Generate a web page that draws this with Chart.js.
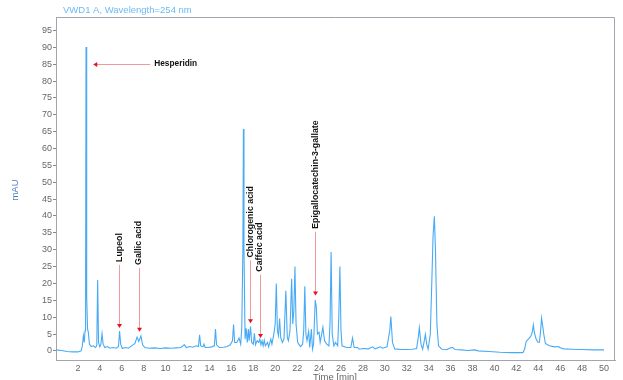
<!DOCTYPE html>
<html>
<head>
<meta charset="utf-8">
<script src="https://cdn.jsdelivr.net/npm/chart.js@4"></script>
<style>
  body { margin: 0; background: #fff; }
  canvas { display: block; }
</style>
</head>
<body>
<canvas id="chrom" width="623" height="380"></canvas>
<script>
// retention time (min) and absorbance (mAU)
const times = [
  0.0, 0.5, 1.0, 1.5, 2.0, 2.3, 2.4, 2.5, 2.58, 2.65, 2.7, 2.74, 2.78, 2.82, 2.88, 2.95,
  3.05, 3.2, 3.4, 3.6, 3.72, 3.8, 3.88, 4.0, 4.1, 4.2, 4.3, 4.45, 4.7, 4.9, 5.2, 5.5,
  5.7, 5.8, 5.9, 6.05, 6.3, 6.6, 6.9, 7.2, 7.4, 7.55, 7.75, 7.9, 8.1, 8.5, 9.0, 9.5,
  10.0, 10.5, 11.0, 11.4, 11.7, 11.9, 12.2, 12.5, 12.8, 13.0, 13.1, 13.2, 13.4, 13.5, 13.6, 13.9,
  14.2, 14.45, 14.55, 14.65, 14.9, 15.3, 15.6, 15.9, 16.1, 16.2, 16.3, 16.5, 16.7, 16.85, 16.95, 17.05,
  17.1, 17.15, 17.25, 17.35, 17.45, 17.55, 17.62, 17.75, 17.85, 18.0, 18.1, 18.2, 18.35, 18.5, 18.6, 18.7,
  18.8, 18.9, 19.0, 19.1, 19.3, 19.4, 19.6, 19.7, 19.85, 20.0, 20.1, 20.2, 20.3, 20.4, 20.5, 20.65,
  20.8, 20.97, 21.1, 21.2, 21.35, 21.5, 21.6, 21.7, 21.8, 21.9, 22.05, 22.3, 22.5, 22.6, 22.7, 22.8,
  22.9, 23.05, 23.15, 23.3, 23.4, 23.5, 23.65, 23.75, 23.85, 24.0, 24.1, 24.35, 24.5, 24.7, 24.9, 25.0,
  25.1, 25.2, 25.35, 25.5, 25.7, 25.8, 25.9, 26.0, 26.1, 26.5, 26.9, 27.05, 27.2, 27.5, 27.7, 28.0,
  28.5, 28.9, 29.1, 29.6, 29.8, 30.2, 30.45, 30.55, 30.7, 30.9, 31.5, 32.0, 32.5, 32.9, 33.05, 33.15,
  33.3, 33.45, 33.6, 33.7, 33.82, 33.95, 34.15, 34.3, 34.4, 34.52, 34.62, 34.75, 34.9, 35.2, 35.7, 36.0,
  36.2, 36.4, 37.0, 37.5, 38.2, 38.5, 39.5, 40.5, 41.5, 42.6, 42.75, 42.9, 43.3, 43.45, 43.55, 43.65,
  43.8, 43.95, 44.1, 44.2, 44.3, 44.4, 44.5, 44.65, 45.0, 45.5, 45.85, 45.95, 46.3, 47.0, 48.0, 49.0,
  50.0
];
const mAU = [
  0.3, 0.1, -0.2, -0.3, -0.3, 0.0, 1.5, 4.5, 2.5, 6, 18.5, 90.1, 46.8, 16, 6.5, 5.5,
  2.0, 1.3, 1.5, 1.0, 1.5, 21, 2.5, 1.2, 2.0, 5.1, 2.0, 1.0, 1.3, 0.8, 1.0, 0.8,
  1.3, 5.9, 2.0, 0.7, 1.0, 0.8, 1.5, 2.2, 4.1, 2.8, 4.4, 1.8, 1.0, 0.8, 0.9, 0.7,
  0.9, 0.8, 0.9, 1.0, 1.8, 1.0, 1.3, 1.1, 1.5, 1.3, 4.8, 1.5, 1.2, 2.0, 1.0, 1.0,
  1.2, 1.5, 6.5, 1.8, 1.0, 1.1, 1.3, 1.8, 3, 7.8, 2.5, 2.5, 3.8, 2.0, 6.8, 30,
  65.8, 30, 3.5, 6.7, 2.5, 6.5, 3.0, 7.2, 2.5, 2.0, 5.2, 1.8, 3.0, 2.5, 3.5, 1.8,
  3.0, 1.5, 3.2, 1.5, 2.5, 1.2, 3.5, 2.0, 4.5, 8, 20.0, 6, 4.5, 9.6, 4.0, 2.5,
  3.5, 17.8, 4, 3, 6, 21.4, 8, 12, 25, 8, 2.5, 1.3, 2.0, 6, 19.2, 5,
  3.0, 5.8, 1.0, 6.5, 0.5, 2.0, 15.1, 13, 5, 5.5, 2.5, 7.0, 3, 2.0, 1.5, 8,
  29.3, 5, 1.5, 2.5, 1.5, 10, 25, 6, 1.5, 1.0, 1.0, 3.8, 1.0, 1.0, 0.5, 0.7,
  0.6, 1.2, 0.6, 1.2, 0.8, 1.2, 6, 10.2, 2.5, 0.6, 0.4, 0.4, 0.5, 0.7, 4, 6.9,
  2, 0.5, 3, 4.9, 2, 0.5, 5, 22, 34, 39.9, 30, 8, 1.5, 0.5, 0.4, 0.9,
  1.0, 0.4, 0.3, 0.1, 0.3, 0.0, -0.2, -0.4, -0.5, -0.5, 0.5, 2.8, 4.2, 5.5, 7.7, 5.3,
  3.5, 2.6, 2.5, 5.5, 9.7, 7.5, 5.0, 2.2, 1.5, 1.2, 1.3, 1.0, 0.6, 0.5, 0.4, 0.3,
  0.3
];

const xTickVals = [2, 4, 6, 8, 10, 12, 14, 16, 18, 20, 22, 24, 26, 28, 30, 32, 34, 36, 38, 40, 42, 44, 46, 48, 50];
const yTickVals = [0, 5, 10, 15, 20, 25, 30, 35, 40, 45, 50, 55, 60, 65, 70, 75, 80, 85, 90, 95];

// compound labels: arrow tip and arrow tail in data units
const compounds = ["Hesperidin", "Lupeol", "Gallic acid", "Chlorogenic acid", "Caffeic acid", "Epigallocatechin-3-gallate"];
const tipTime = [3.4, 5.78, 7.55, 17.72, 18.57, 23.65];
const tipValue = [85.2, 6.8, 5.7, 8.2, 3.8, 16.4];
const tailTime = [8.6, 5.78, 7.55, 17.72, 18.57, 23.65];
const tailValue = [85.2, 25.5, 24.6, 26.8, 22.6, 35.3];

const points = times.map((t, i) => ({ x: t, y: mAU[i] }));

const extras = {
  id: "extras",
  afterDraw(chart) {
    const ctx = chart.ctx;
    const a = chart.chartArea;
    const xs = chart.scales.x;
    const ys = chart.scales.y;
    ctx.save();

    // top and right frame
    ctx.strokeStyle = "#a4a4ae";
    ctx.lineWidth = 1;
    ctx.beginPath();
    ctx.moveTo(a.left, a.top + 0.5);
    ctx.lineTo(a.right - 0.5, a.top + 0.5);
    ctx.lineTo(a.right - 0.5, a.bottom);
    ctx.stroke();

    // titles
    ctx.fillStyle = "#6cbaf4";
    ctx.font = "9.5px Arial, 'Liberation Sans'";
    ctx.textBaseline = "middle";
    ctx.textAlign = "left";
    ctx.fillText("VWD1 A, Wavelength=254 nm", 63, 10);

    ctx.fillStyle = "#666";
    ctx.textBaseline = "top";
    ctx.fillText("Time [min]", 313, 373);

    ctx.save();
    ctx.translate(15, 190);
    ctx.rotate(-Math.PI / 2);
    ctx.fillStyle = "#4a7cc0";
    ctx.textAlign = "center";
    ctx.textBaseline = "middle";
    ctx.fillText("mAU", 0, 0);
    ctx.restore();

    // arrows and compound names
    compounds.forEach((name, i) => {
      const x1 = xs.getPixelForValue(tailTime[i]);
      const y1 = ys.getPixelForValue(tailValue[i]);
      const x2 = xs.getPixelForValue(tipTime[i]);
      const y2 = ys.getPixelForValue(tipValue[i]);
      const horiz = Math.abs(y1 - y2) < 1;

      ctx.strokeStyle = "#f29a9a";
      ctx.lineWidth = 1;
      ctx.beginPath();
      if (horiz) {
        ctx.moveTo(x1, Math.round(y1) + 0.5);
        ctx.lineTo(x2 + 3, Math.round(y2) + 0.5);
      } else {
        ctx.moveTo(Math.round(x1) + 0.5, y1);
        ctx.lineTo(Math.round(x2) + 0.5, y2 - 3);
      }
      ctx.stroke();

      ctx.fillStyle = "#e8101a";
      ctx.beginPath();
      if (horiz) {
        const yy = Math.round(y2) + 0.5;
        ctx.moveTo(x2, yy);
        ctx.lineTo(x2 + 4, yy - 2.5);
        ctx.lineTo(x2 + 4, yy + 2.5);
      } else {
        const xx = Math.round(x2) + 0.5;
        ctx.moveTo(xx, y2);
        ctx.lineTo(xx - 2.5, y2 - 4);
        ctx.lineTo(xx + 2.5, y2 - 4);
      }
      ctx.closePath();
      ctx.fill();

      ctx.fillStyle = "#111";
      if (horiz) {
        ctx.font = "bold 8.3px Arial, 'Liberation Sans'";
        ctx.textAlign = "left";
        ctx.textBaseline = "middle";
        ctx.fillText(name, x1 + 4, y1);
      } else {
        ctx.save();
        ctx.font = "bold 8.8px Arial, 'Liberation Sans'";
        ctx.translate(x1, y1 - 3);
        ctx.rotate(-Math.PI / 2);
        ctx.textAlign = "left";
        ctx.textBaseline = "middle";
        ctx.fillText(name, 0, 0);
        ctx.restore();
      }
    });
    ctx.restore();
  }
};

new Chart(document.getElementById("chrom"), {
  type: "line",
  data: {
    datasets: [
      {
        data: points,
        borderColor: "rgb(72,170,245)",
        borderWidth: 1.1,
        pointRadius: 0,
        tension: 0,
        fill: false,
      },
    ],
  },
  options: {
    responsive: false,
    animation: false,
    devicePixelRatio: 1,
    layout: { padding: { top: 17, right: 8, left: 0, bottom: 0 } },
    plugins: { legend: { display: false }, tooltip: { enabled: false } },
    scales: {
      x: {
        type: "linear",
        min: 0,
        max: 51,
        afterBuildTicks: (s) => { s.ticks = xTickVals.map((v) => ({ value: v })); },
        afterFit: (s) => { s.height = 20; },
        grid: { drawOnChartArea: false, drawTicks: false },
        border: { color: "#a4a4ae" },
        ticks: { color: "#666", font: { family: "Arial", size: 9 }, padding: 3, maxRotation: 0, autoSkip: false },
      },
      y: {
        min: -2.7,
        max: 99,
        afterBuildTicks: (s) => { s.ticks = yTickVals.map((v) => ({ value: v })); },
        afterFit: (s) => { s.width = 56; },
        grid: { drawOnChartArea: false, drawTicks: true, tickLength: 3, color: "#888" },
        border: { color: "#a4a4ae" },
        ticks: { color: "#666", font: { family: "Arial", size: 9 }, padding: 1, autoSkip: false },
      },
    },
  },
  plugins: [extras],
});
</script>
</body>
</html>
